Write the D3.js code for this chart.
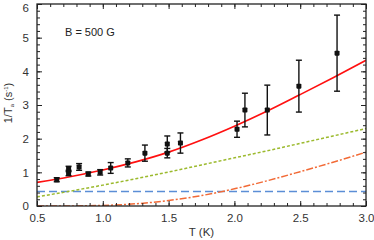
<!DOCTYPE html>
<html><head><meta charset="utf-8">
<script src="https://cdn.jsdelivr.net/npm/d3@7"></script>
<style>body{margin:0;background:#fff}svg{display:block}text{font-family:"Liberation Sans",Arial,sans-serif}</style>
</head><body><svg id="c" width="374" height="240"></svg>
<script>
const dataT   = [0.65, 0.74, 0.74, 0.82, 0.89, 0.98, 1.06, 1.19, 1.32, 1.49, 1.49, 1.59, 2.02, 2.08, 2.25, 2.49, 2.78];
const dataY   = [0.78, 1.10, 0.98, 1.16, 0.95, 1.00, 1.13, 1.28, 1.57, 1.84, 1.57, 1.87, 2.28, 2.85, 2.85, 3.56, 4.54];
const dataErr = [0.06, 0.08, 0.08, 0.10, 0.06, 0.08, 0.16, 0.12, 0.24, 0.24, 0.14, 0.30, 0.24, 0.50, 0.74, 0.77, 1.13];
const curveT     = [0.5, 0.75, 1.0, 1.25, 1.5, 1.75, 2.0, 2.25, 2.5, 2.75, 3.0];
const totalFit   = [0.70, 0.87, 1.07, 1.31, 1.60, 1.96, 2.37, 2.82, 3.31, 3.81, 4.33];
const ramanFit   = [0.27, 0.44, 0.62, 0.81, 1.01, 1.22, 1.43, 1.64, 1.86, 2.08, 2.30];
const orbachFit  = [0.00, 0.002, 0.017, 0.065, 0.164, 0.31, 0.51, 0.75, 1.02, 1.30, 1.60];
const directFit  = [0.43, 0.43, 0.43, 0.43, 0.43, 0.43, 0.43, 0.43, 0.43, 0.43, 0.43];
const xTicks = [0.5, 1.0, 1.5, 2.0, 2.5, 3.0];
const yTicks = [0, 1, 2, 3, 4, 5, 6];

const svg = d3.select("#c");
const L = 37, R = 366, T = 4, B = 206;
const x = d3.scaleLinear().domain([0.5, 3.0]).range([L, R]);
const y = d3.scaleLinear().domain([0, 6]).range([B, T]);

const plot = svg.append("g");
svg.append("clipPath").attr("id","cp").append("rect").attr("x",L).attr("y",T).attr("width",R-L).attr("height",B-T);
const g = plot.append("g").attr("clip-path","url(#cp)");

const line = arr => d3.line().x((d,i)=>x(curveT[i])).y(d=>y(d)).curve(d3.curveMonotoneX)(arr);
g.append("path").attr("d", line(directFit)).attr("fill","none").attr("stroke","#5b8ed6").attr("stroke-width",1.5).attr("stroke-dasharray","8,4");
g.append("path").attr("d", line(ramanFit)).attr("fill","none").attr("stroke","#9cba2e").attr("stroke-width",1.5).attr("stroke-dasharray","3,2");
g.append("path").attr("d", line(orbachFit)).attr("fill","none").attr("stroke","#f26a36").attr("stroke-width",1.5).attr("stroke-dasharray","7,2,2,2");
g.append("path").attr("d", line(totalFit)).attr("fill","none").attr("stroke","#ff1010").attr("stroke-width",1.6);

// error bars
const eb = plot.append("g").attr("stroke","#111").attr("stroke-width",1.4);
dataT.forEach((t,i)=>{
  const cx = x(t), y1 = y(dataY[i]+dataErr[i]), y2 = y(dataY[i]-dataErr[i]);
  eb.append("line").attr("x1",cx).attr("x2",cx).attr("y1",y1).attr("y2",y2);
  eb.append("line").attr("x1",cx-3).attr("x2",cx+3).attr("y1",y1).attr("y2",y1);
  eb.append("line").attr("x1",cx-3).attr("x2",cx+3).attr("y1",y2).attr("y2",y2);
});
plot.append("g").selectAll("rect").data(dataT).join("rect")
  .attr("x",(d)=>x(d)-2.5).attr("y",(d,i)=>y(dataY[i])-2.5).attr("width",5).attr("height",5).attr("rx",0.8).attr("fill","#111");

// axes
const fmtX = d3.format(".1f");
const axB = d3.axisBottom(x).tickValues(xTicks).tickFormat(fmtX).tickSizeInner(-5).tickSizeOuter(0).tickPadding(8);
const axBm = d3.axisBottom(x).tickValues(d3.range(0.6, 3.0, 0.1)).tickFormat("").tickSizeInner(-3).tickSizeOuter(0);
const axT = d3.axisTop(x).tickValues(xTicks).tickFormat("").tickSizeInner(-5).tickSizeOuter(0);
const axTm = d3.axisTop(x).tickValues(d3.range(0.6, 3.0, 0.1)).tickFormat("").tickSizeInner(-3).tickSizeOuter(0);
const axL = d3.axisLeft(y).tickValues(yTicks).tickFormat(d3.format("d")).tickSizeInner(-5).tickSizeOuter(0).tickPadding(8);
const axLm = d3.axisLeft(y).tickValues(d3.range(0.2, 6, 0.2)).tickFormat("").tickSizeInner(-3).tickSizeOuter(0);
const axR = d3.axisRight(y).tickValues(yTicks).tickFormat("").tickSizeInner(-5).tickSizeOuter(0);
const axRm = d3.axisRight(y).tickValues(d3.range(0.2, 6, 0.2)).tickFormat("").tickSizeInner(-3).tickSizeOuter(0);
const addAx = (ax, tr) => {
  const a = svg.append("g").attr("transform", tr).call(ax);
  a.select(".domain").remove();
  a.selectAll("line").attr("stroke","#222").attr("stroke-width",1);
  a.selectAll("text").attr("font-size",11.5).attr("fill","#333");
  return a;
};
addAx(axB, `translate(0,${B})`); addAx(axBm, `translate(0,${B})`);
addAx(axT, `translate(0,${T})`); addAx(axTm, `translate(0,${T})`);
const yl0 = addAx(axL, `translate(${L},0)`); addAx(axLm, `translate(${L},0)`);
yl0.selectAll("text").filter(d=>d===6).attr("dy","0.62em");
addAx(axR, `translate(${R},0)`); addAx(axRm, `translate(${R},0)`);

svg.append("rect").attr("x",L).attr("y",T).attr("width",R-L).attr("height",B-T).attr("fill","none").attr("stroke","#222").attr("stroke-width",1.3);

svg.append("text").attr("x",65).attr("y",36).attr("font-size",11).attr("fill","#222").text("B = 500 G");
svg.append("text").attr("x",(L+R)/2).attr("y",236).attr("text-anchor","middle").attr("font-size",11.5).attr("fill","#333").text("T (K)");
const yl = svg.append("text").attr("transform","translate(12,103) rotate(-90)").attr("text-anchor","middle").attr("font-size",11).attr("fill","#333");
yl.append("tspan").text("1/T");
yl.append("tspan").attr("font-size",6).attr("dy",2).text("a");
yl.append("tspan").attr("dy",-2).text(" (s");
yl.append("tspan").attr("font-size",6).attr("dy",-4).text("-1");
yl.append("tspan").attr("dy",4).text(")");
</script></body></html>
